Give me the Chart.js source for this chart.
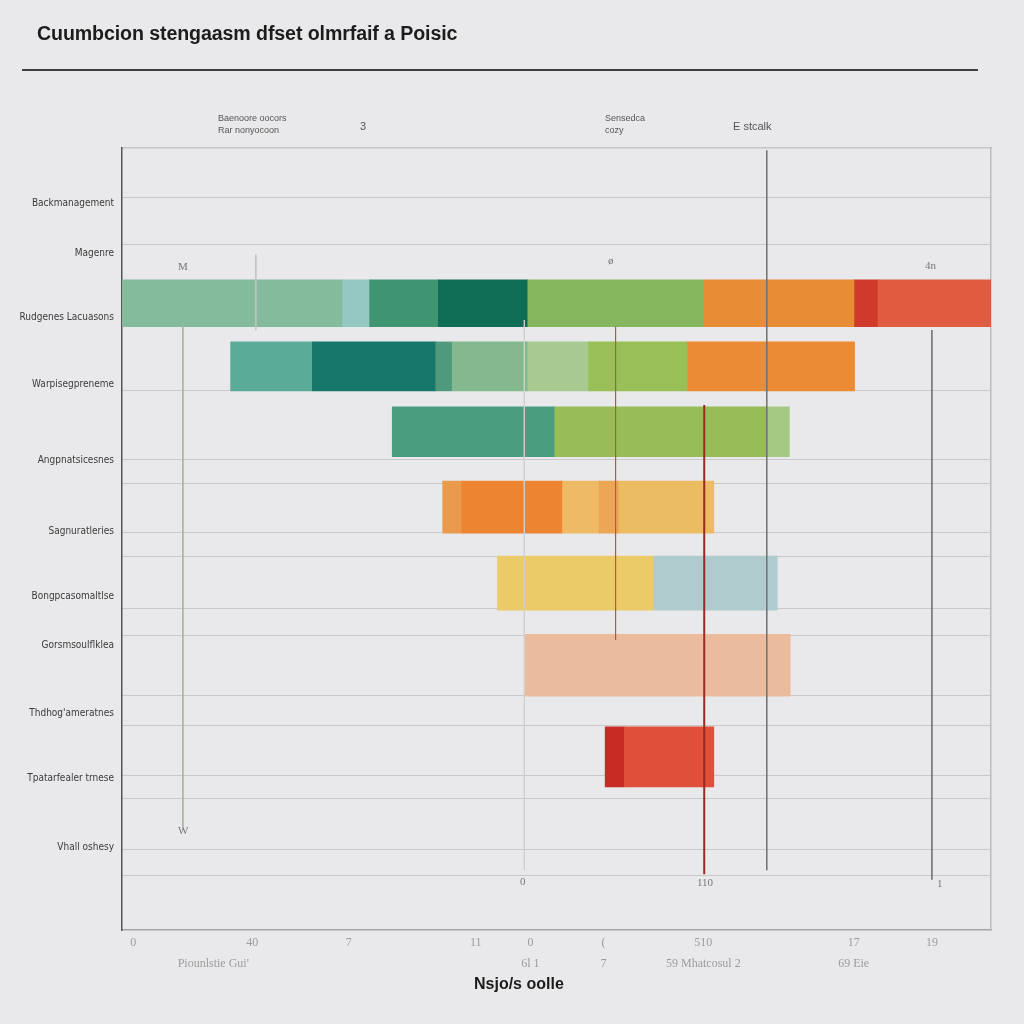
<!DOCTYPE html>
<html>
<head>
<meta charset="utf-8">
<script src="https://cdn.jsdelivr.net/npm/chart.js@4.4.1/dist/chart.umd.min.js"></script>
<style>
  html, body { margin: 0; padding: 0; background: #e9e9eb; }
  #wrap { position: relative; width: 1024px; height: 1024px; overflow: hidden; }
  #chartBox { position: absolute; left: 0; top: 0; width: 1024px; height: 1024px; }
  .t { position: absolute; white-space: nowrap; font-family: 'Liberation Sans', Arial, sans-serif; }
  #title { left: 37px; top: 22px; font-size: 19.6px; font-weight: bold; color: #1c1c1c; letter-spacing: -0.1px; }
  #rule { position: absolute; left: 22px; top: 69px; width: 956px; height: 2px; background: #3e3e3e; }
  .small { font-size: 9px; color: #555; line-height: 12px; }
  .mid { font-size: 11px; color: #555; }
  .mark { font-size: 11px; color: #777; font-family: 'Liberation Serif', serif; }
  #xtitle { left: 474px; top: 975px; font-size: 16px; font-weight: bold; color: #1c1c1c; }
</style>
</head>
<body>
<div id="wrap">
  <div id="chartBox"><canvas id="c" width="1024" height="1024"></canvas></div>
  <div id="title" class="t">Cuumbcion stengaasm dfset olmrfaif a Poisic</div>
  <div id="rule"></div>
  <div class="t small" style="left:218px;top:112px;">Baenoore oocors<br>Rar nonyocoon</div>
  <div class="t mid" style="left:360px;top:120px;">3</div>
  <div class="t small" style="left:605px;top:112px;">Sensedca<br>cozy</div>
  <div class="t mid" style="left:733px;top:120px;">E stcalk</div>
  <div class="t mark" style="left:178px;top:260px;">M</div>
  <div class="t mark" style="left:178px;top:824px;">W</div>
  <div class="t mark" style="left:520px;top:875px;">0</div>
  <div class="t mark" style="left:697px;top:876px;">110</div>
  <div class="t mark" style="left:937px;top:877px;">1</div>
  <div class="t mark" style="left:925px;top:259px;">4n</div>
  <div class="t mark" style="left:608px;top:254px;">ø</div>
  <div id="xtitle" class="t">Nsjo/s oolle</div>
</div>
<script>
// ---- categories / labels ----
const yLabels = ["Backmanagement", "Magenre", "Rudgenes Lacuasons", "Warpisegpreneme", "Angpnatsicesnes",
  "Sagnuratleries", "Bongpcasomaltlse", "Gorsmsoulflklea", "Thdhog'ameratnes", "Tpatarfealer trnese", "Vhall oshesy"];
const yLabelPos = [1.00, 1.88, 3.03, 4.24, 5.59, 6.87, 8.02, 8.90, 10.13, 11.28, 12.53];
const gridRows = [0.895, 1.736, 4.35, 5.57, 6.01, 6.89, 7.32, 8.25, 8.72, 9.81, 10.33, 11.24, 11.65, 12.55, 13.03];

const xTickPos = [1.3, 10.5, 15.0, 26.1, 40.7, 47.0, 55.4, 66.9, 84.2, 93.2];
const xTickLabels = [["0", ""], ["", "Piounlstie Gui'"], ["40", ""], ["7", ""], ["11", ""], ["0", "6l 1"], ["(", "7"],
  ["510", "59 Mhatcosul 2"], ["17", "69 Eie"], ["19", ""]];

// ---- rows (funnel bars): row position, segment starts/ends, colours ----
const rowPos = [2.78, 3.91, 5.08, 6.43, 7.79, 9.26, 10.90];

const row1Start = [0, 25.4, 28.5, 36.4, 46.7, 67.0, 84.3, 87.0];
const row1End   = [25.4, 28.5, 36.4, 46.7, 67.0, 84.3, 87.0, 100];
const row1Colors = ["#85bb9d", "#95c8c2", "#3f9571", "#0f6c55", "#86b75e", "#e98c36", "#cf3a2b", "#e05b40"];

const row2Start = [12.5, 21.9, 36.1, 38.0, 46.7, 53.7, 65.1];
const row2End   = [21.9, 36.1, 38.0, 46.7, 53.7, 65.1, 84.3];
const row2Colors = ["#5aab97", "#17776a", "#4f9a7b", "#84b98f", "#a7ca90", "#99bf58", "#ec8b36"];

const row3Start = [31.1, 49.8, 74.3];
const row3End   = [49.8, 74.3, 76.8];
const row3Colors = ["#4a9e7f", "#98bd58", "#a5c882"];

const row4Start = [36.9, 39.1, 50.7, 54.9, 57.2];
const row4End   = [39.1, 50.7, 54.9, 57.2, 68.1];
const row4Colors = ["#ea9a4c", "#ec8432", "#efba66", "#eca656", "#ebbc62"];

const row5Start = [43.2, 61.2];
const row5End   = [61.2, 75.4];
const row5Colors = ["#ebcb68", "#b0cbcd"];

const row6Start = [46.3];
const row6End   = [76.9];
const row6Colors = ["#ebbb9e"];

const row7Start = [55.6, 57.8];
const row7End   = [57.8, 68.1];
const row7Colors = ["#c82b24", "#df4f39"];

const rowThickness = [47, 49, 50, 52, 54, 62, 60];

// ---- vertical marker lines: x value, from row, to row ----
const markerX    = [7.0, 15.4, 46.3, 56.8, 67.0, 74.2, 93.2];
const markerFrom = [3.17, 1.91, 3.08, 3.20, 4.60, 0.04, 3.26];
const markerTo   = [12.21, 3.26, 12.93, 8.81, 13.0, 12.93, 13.10];
const markerColors = ["#a9b3a2", "#c2c2c2", "#cfcfcf", "#b25a40", "#9b2a22", "#707070", "#6a6a6a"];
const markerWidths = [1, 1, 1, 1.2, 2, 1.5, 1.5];

const rows = [
  [row1Start, row1End, row1Colors],
  [row2Start, row2End, row2Colors],
  [row3Start, row3End, row3Colors],
  [row4Start, row4End, row4Colors],
  [row5Start, row5End, row5Colors],
  [row6Start, row6End, row6Colors],
  [row7Start, row7End, row7Colors]
];

const datasets = [];
markerX.forEach((mx, i) => {
  datasets.push({
    type: 'line',
    label: 'marker' + i,
    data: [{x: mx, y: markerFrom[i]}, {x: mx, y: markerTo[i]}],
    borderColor: markerColors[i],
    borderWidth: markerWidths[i],
    pointRadius: 0,
    fill: false,
    xAxisID: 'x',
    yAxisID: 'y',
    order: -1
  });
});
rows.forEach((r, i) => {
  const [s, e, col] = r;
  datasets.push({
    type: 'bar',
    label: 'row' + (i + 1),
    data: s.map((v, k) => ({x: [v, e[k]], y: rowPos[i]})),
    backgroundColor: col,
    borderWidth: 0,
    barThickness: rowThickness[i],
    stack: 'all',
    xAxisID: 'x',
    yAxisID: 'y',
    order: 1
  });
});

new Chart(document.getElementById('c'), {
  data: { datasets },
  options: {
    indexAxis: 'y',
    responsive: false,
    animation: false,
    events: [],
    layout: { padding: { top: 148, right: 33, bottom: 34, left: 0 } },
    plugins: { legend: { display: false }, tooltip: { enabled: false }, title: { display: false } },
    scales: {
      x: {
        type: 'linear', position: 'bottom', min: 0, max: 100, offset: false,
        afterBuildTicks: (s) => { s.ticks = xTickPos.map(v => ({ value: v })); },
        afterFit: (s) => { s.height = 60; },
        ticks: {
          autoSkip: false, maxRotation: 0, padding: 3,
          color: '#9c9c9c',
          font: { family: "'Liberation Serif', serif", size: 12, lineHeight: 1.7 },
          callback: (v, i) => xTickLabels[i]
        },
        grid: { display: false, drawTicks: false },
        border: { display: true, color: '#a5a5a5', width: 1.5 }
      },
      xTop: {
        type: 'linear', position: 'top', min: 0, max: 100, offset: false,
        ticks: { display: false },
        grid: { display: false, drawTicks: false },
        afterFit: (s) => { s.height = 0; },
        border: { display: true, color: '#c6c6c6', width: 1.5 }
      },
      y: {
        type: 'linear', position: 'left', min: 0, max: 14, reverse: true, offset: false,
        afterBuildTicks: (s) => { s.ticks = yLabelPos.map(v => ({ value: v })); },
        afterFit: (s) => { s.width = 122; },
        ticks: {
          autoSkip: false, padding: 8, color: '#3a3a3a',
          font: { family: "'Liberation Sans Narrow', 'DejaVu Sans Condensed', 'Liberation Sans', sans-serif", size: 10 },
          callback: (v, i) => yLabels[i]
        },
        grid: { display: false, drawTicks: false, offset: false },
        border: { display: true, color: '#555555', width: 1.5 }
      },
      yGrid: {
        type: 'linear', position: 'right', min: 0, max: 14, reverse: true, offset: false,
        afterBuildTicks: (s) => { s.ticks = gridRows.map(v => ({ value: v })); },
        afterFit: (s) => { s.width = 0; },
        ticks: { display: false },
        grid: { display: true, color: '#c9c9c9', lineWidth: 1, drawTicks: false },
        border: { display: true, color: '#bdbdbd', width: 1.5 }
      }
    }
  }
});
</script>
</body>
</html>
